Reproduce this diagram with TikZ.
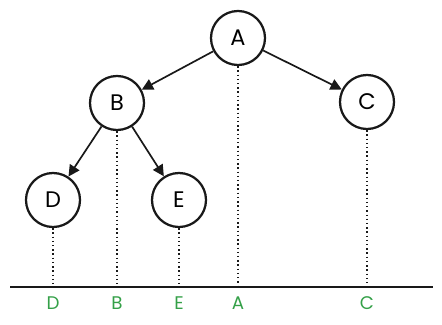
\documentclass[tikz,border=0pt]{standalone}
\usepackage{fontspec}
\setmainfont{Poppins}
\usepackage{tikz}
\usetikzlibrary{arrows.meta}
\usepackage{xcolor}
\definecolor{cvert}{RGB}{52,160,72}
\definecolor{cnoir}{RGB}{25,25,25}
\tikzset{
  noeud/.style={circle,draw=cnoir,line width=1.6pt,minimum size=1.35cm,inner sep=0pt,font=\fontsize{16}{16}\selectfont},
  fleche/.style={->,line width=1.2pt,cnoir},
  ordre/.style={text=cvert,font=\fontsize{13}{13}\selectfont}
}
\begin{document}
\begin{tikzpicture}[x=0.025cm,y=0.025cm,>={Triangle[length=8pt,width=8pt]}]
\useasboundingbox (0,0) rectangle (442,324);
\node[noeud] (A) at (238,286) {A};
\node[noeud] (B) at (117,221) {B};
\node[noeud] (C) at (367,222) {C};
\node[noeud] (D) at (53,124) {D};
\node[noeud] (E) at (179,124) {E};
\draw[fleche] (A) -- (B);
\draw[fleche] (A) -- (C);
\draw[fleche] (B) -- (D);
\draw[fleche] (B) -- (E);
\draw[line width=1.5pt,cnoir] (10,37) -- (433,37);
\foreach \n/\x in {D/53,B/117,E/179,A/238,C/367}
  {\coordinate (p\n) at (\x,37);
   \draw[dotted,line width=1pt,cnoir] (\n.south) -- (p\n);
   \node[ordre] (l\n) at (\x,21) {\n};}
\end{tikzpicture}
\end{document}
